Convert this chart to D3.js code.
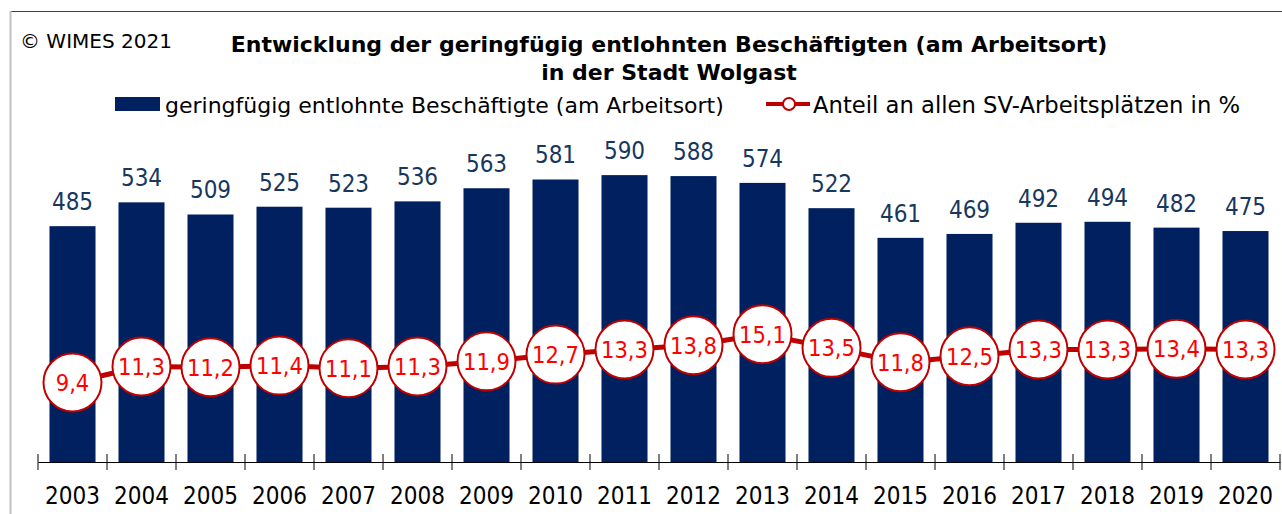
<!DOCTYPE html>
<html><head><meta charset="utf-8">
<script src="https://cdn.jsdelivr.net/npm/d3@7"></script>
<style>body{margin:0;background:#fff}svg{display:block}text{font-family:"DejaVu Sans",sans-serif;font-stretch:condensed}.wide{font-stretch:normal}</style>
</head><body><svg id="c" width="1282" height="514"></svg>
<script>
const years = ["2003","2004","2005","2006","2007","2008","2009","2010","2011","2012","2013","2014","2015","2016","2017","2018","2019","2020"];
const employees = [485,534,509,525,523,536,563,581,590,588,574,522,461,469,492,494,482,475];
const sharePct = [9.4,11.3,11.2,11.4,11.1,11.3,11.9,12.7,13.3,13.8,15.1,13.5,11.8,12.5,13.3,13.3,13.4,13.3];
const titleLines = ["Entwicklung der geringfügig entlohnten Beschäftigten (am Arbeitsort)","in der Stadt Wolgast"];
const legendBar = "geringfügig entlohnte Beschäftigte (am Arbeitsort)";
const legendLine = "Anteil an allen SV-Arbeitsplätzen in %";
const copyright = "© WIMES 2021";

const svg = d3.select("#c");
const fmt = v => String(v).replace(".", ",");
const x = d3.scaleBand().domain(years).range([38, 1280]).padding(0);
const y = d3.scaleLinear().domain([0, 800]).range([462, 73]);
const y2 = d3.scaleLinear().domain([0, 46]).range([462, 73]);
const barW = x.bandwidth() * 0.667;
const navy = "#002060";

// frame
svg.append("line").attr("x1",10).attr("x2",1282).attr("y1",11.5).attr("y2",11.5).attr("stroke","#404040").attr("stroke-width",1);
svg.append("line").attr("x1",10.5).attr("x2",10.5).attr("y1",11).attr("y2",514).attr("stroke","#c0c0c0").attr("stroke-width",2);

svg.append("text").attr("class","wide").attr("x",20).attr("y",48).attr("font-size",20).attr("fill","#000").text(copyright);
svg.selectAll("text.title").data(titleLines).join("text").attr("class","title wide")
  .attr("x",669).attr("y",(d,i)=>52+i*28).attr("text-anchor","middle")
  .attr("font-size",22).attr("font-weight","bold").attr("fill","#000").text(d=>d);

// legend
svg.append("rect").attr("x",115).attr("y",97).attr("width",45).attr("height",14).attr("fill",navy);
svg.append("text").attr("class","wide").attr("x",165).attr("y",113).attr("font-size",22).attr("fill","#000").text(legendBar);
svg.append("line").attr("x1",766).attr("x2",810).attr("y1",104).attr("y2",104).attr("stroke","#c00000").attr("stroke-width",4);
svg.append("circle").attr("cx",789).attr("cy",104).attr("r",6).attr("fill","#fff").attr("stroke","#c00000").attr("stroke-width",2);
svg.append("text").attr("class","wide").attr("x",813).attr("y",113).attr("font-size",22.7).attr("fill","#000").text(legendLine);

// bars
svg.selectAll("rect.bar").data(employees).join("rect").attr("class","bar")
  .attr("x",(d,i)=>x(years[i])+(x.bandwidth()-barW)/2).attr("width",barW)
  .attr("y",d=>y(d)).attr("height",d=>y(0)-y(d)).attr("fill",navy);
svg.selectAll("text.bl").data(employees).join("text").attr("class","bl")
  .attr("x",(d,i)=>x(years[i])+x.bandwidth()/2).attr("y",d=>y(d)-16)
  .attr("text-anchor","middle").attr("font-size",24).attr("fill","#17375e").text(d=>d);

// axis
const ax = d3.axisBottom(x).tickSize(0).tickFormat(d=>d);
const g = svg.append("g").attr("transform","translate(0,462)").call(ax);
g.select(".domain").attr("stroke","#000");
g.selectAll("text").attr("font-size",24).attr("fill","#000").attr("dy","1.62em");
const bounds = years.map(yr=>x(yr)).concat([x.range()[1]]);
svg.selectAll("line.tk").data(bounds).join("line").attr("class","tk")
  .attr("x1",d=>d).attr("x2",d=>d).attr("y1",454).attr("y2",470).attr("stroke","#000");

// line
const line = d3.line().x((d,i)=>x(years[i])+x.bandwidth()/2).y(d=>y2(d));
svg.append("path").datum(sharePct).attr("d",line).attr("fill","none").attr("stroke","#c00000").attr("stroke-width",5);
svg.selectAll("circle.pt").data(sharePct).join("circle").attr("class","pt")
  .attr("cx",(d,i)=>x(years[i])+x.bandwidth()/2).attr("cy",d=>y2(d)).attr("r",29)
  .attr("fill","#fff").attr("stroke","#c00000").attr("stroke-width",2);
svg.selectAll("text.pl").data(sharePct).join("text").attr("class","pl")
  .attr("x",(d,i)=>x(years[i])+x.bandwidth()/2).attr("y",d=>y2(d)).attr("dy","0.36em")
  .attr("text-anchor","middle").attr("font-size",23.5).attr("fill","#ff0000").text(fmt);
</script></body></html>
